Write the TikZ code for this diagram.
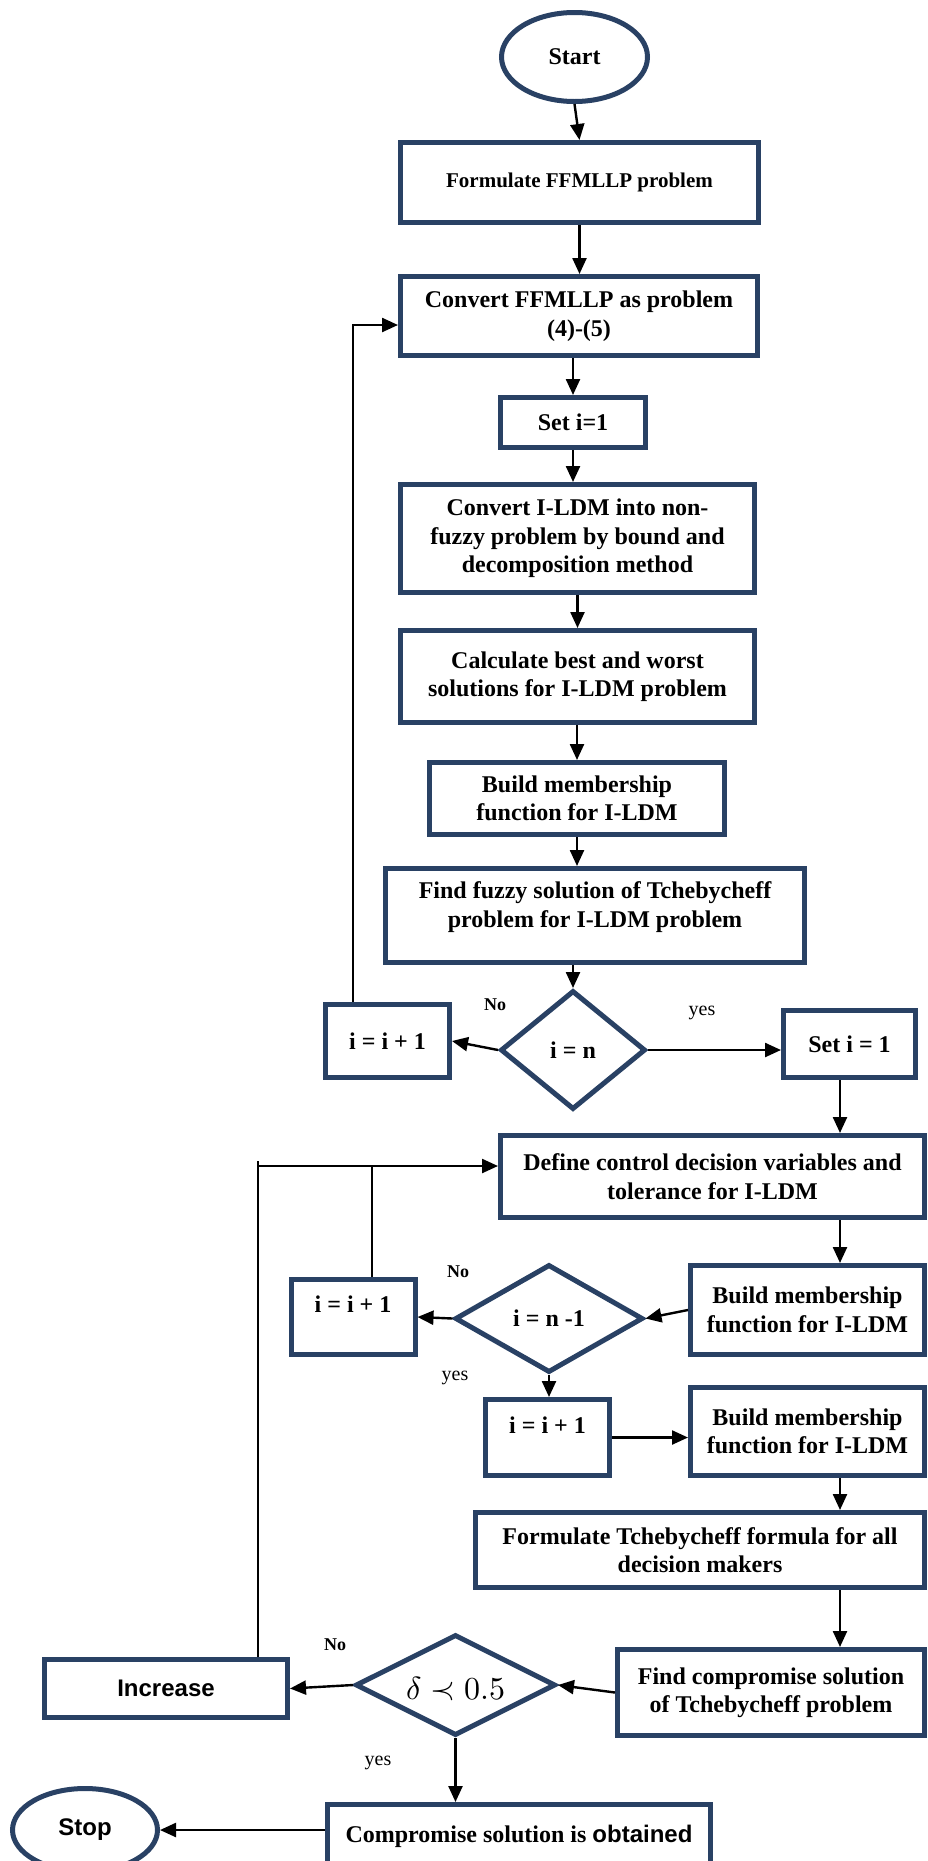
\documentclass[tikz,border=0pt]{standalone}
\usepackage{graphicx}
\usepackage{fontspec}
\setmainfont{Liberation Serif}
\newfontfamily\arialfont{Liberation Sans}
\usetikzlibrary{shapes.geometric,arrows.meta}
\definecolor{bblue}{RGB}{41,65,100}
\begin{document}
\begin{tikzpicture}[x=1pt,y=-1pt,
  every node/.style={inner sep=2pt},
  box/.style={draw=bblue, line width=5pt, rectangle, align=center,
    font=\bfseries\fontsize{24}{28.5}\selectfont},
  dia/.style={draw=bblue, line width=5pt, diamond, inner sep=0pt, align=center,
    font=\bfseries\fontsize{24}{28.5}\selectfont},
  ell/.style={draw=bblue, line width=5pt, ellipse, inner sep=0pt,
    font=\bfseries\fontsize{24}{28.5}\selectfont},
  arr/.style={-{Triangle[length=16pt,width=14pt]}, line width=2.4pt},
  ln/.style={line width=1.8pt},
  lblno/.style={font=\bfseries\fontsize{18}{20}\selectfont},
  lblyes/.style={font=\fontsize{20}{22}\selectfont}]
\useasboundingbox (0,0) rectangle (927,1861);

% nodes
\node[ell, minimum width=146pt, minimum height=89pt] (start) at (574.5,57) {Start};
\node[box, minimum width=358pt, minimum height=80pt, font=\bfseries\fontsize{21}{24}\selectfont] (form) at (579.5,182.5) {Formulate FFMLLP problem};
\node[box, minimum width=357pt, minimum height=79pt] (conv) at (579,316) {Convert FFMLLP as problem\\(4)-(5)};
\node[box, minimum width=145pt, minimum height=50pt] (seti) at (573,422.5) {Set i=1};
\node[box, minimum width=354pt, minimum height=108pt] (cildm) at (577.5,538.5) {Convert I-LDM into non-\\fuzzy problem by bound and\\decomposition method};
\node[box, minimum width=354pt, minimum height=92pt] (calc) at (577.5,676.5) {Calculate best and worst\\solutions for I-LDM problem};
\node[box, minimum width=295pt, minimum height=72pt] (build1) at (577,798.5) {Build membership\\function for I-LDM};
\node[box, minimum width=419pt, minimum height=94pt, text depth=22pt] (findf) at (595,915.5) {Find fuzzy solution of Tchebycheff\\problem for I-LDM problem};
\node[dia, minimum width=145pt, minimum height=119pt] (d1) at (573,1050) {i = n};
\node[box, minimum width=124pt, minimum height=73pt] (inc1) at (387.5,1041) {i = i + 1};
\node[box, minimum width=132pt, minimum height=67pt] (set1b) at (849.5,1044) {Set i = 1};
\node[box, minimum width=424pt, minimum height=82pt] (define) at (712.5,1176.5) {Define control decision variables and\\tolerance for I-LDM};
\node[box, minimum width=234pt, minimum height=89pt] (build2) at (807.5,1310) {Build membership\\function for I-LDM};
\node[dia, minimum width=188pt, minimum height=108pt] (d2) at (549,1318.5) {i = n -1};
\node[box, minimum width=124pt, minimum height=75pt, text height=17pt, text depth=26pt] (inc2) at (353,1317) {i = i + 1};
\node[box, minimum width=124pt, minimum height=76pt, text height=17pt, text depth=26pt] (inc3) at (547.5,1437.5) {i = i + 1};
\node[box, minimum width=234pt, minimum height=88pt] (build3) at (807.5,1431.5) {Build membership\\function for I-LDM};
\node[box, minimum width=449pt, minimum height=75pt] (ftch) at (700,1550) {Formulate Tchebycheff formula for all\\decision makers};
\node[box, minimum width=307pt, minimum height=86pt] (fcomp) at (771,1692.5) {Find compromise solution\\of Tchebycheff problem};
\node[dia, minimum width=200pt, minimum height=101pt, font=\normalsize] (d3) at (455.5,1685) {\makebox[0pt]{\raisebox{-14pt}[0pt][0pt]{\scalebox{3.2}{$\delta \prec 0.5$}}}};
\node[box, minimum width=243pt, minimum height=58pt, font=\arialfont\bfseries\fontsize{24}{28}\selectfont] (incr) at (166,1688.5) {Increase};
\node[box, minimum width=383pt, minimum height=63pt] (comp) at (519,1836) {Compromise solution is {\arialfont\bfseries obtained}};
\node[ell, minimum width=145pt, minimum height=83pt, font=\arialfont\bfseries\fontsize{24}{28}\selectfont] (stop) at (85,1830) {Stop};

% labels
\node[lblno] (no1) at (495,1005) {No};
\node[lblyes] (yes1) at (702,1013) {yes};
\node[lblno] (no2) at (458,1272) {No};
\node[lblyes] (yes2) at (455,1378) {yes};
\node[lblno] (no3) at (335,1645) {No};
\node[lblyes] (yes3) at (378,1763) {yes};

% helper coordinates
\coordinate (colR) at (840,0);
\coordinate (fb1) at (353,325);
\coordinate (j2) at (372,1166);
\coordinate (lt) at (257,1166);
\coordinate (ltop) at (258,1161);

% connectors
\draw[arr] (start.south) -- (form.north);
\draw[arr] (form.south) -- (form.south |- conv.north);
\draw[arr] (seti.north |- conv.south) -- (seti.north);
\draw[arr] (seti.south) -- (seti.south |- cildm.north);
\draw[arr] (cildm.south) -- (cildm.south |- calc.north);
\draw[arr] (build1.north |- calc.south) -- (build1.north);
\draw[arr] (build1.south) -- (build1.south |- findf.north);
\draw[arr] (findf.south -| d1.north) -- (d1.north);
\draw[arr] (d1.west) -- (inc1.east);
\draw[arr] (d1.east) -- (d1.east -| set1b.west);
\draw[arr] (inc1.north -| fb1) -- (fb1) -- (fb1 -| conv.west);
\draw[arr] (colR |- set1b.south) -- (colR |- define.north);
\draw[arr] (colR |- define.south) -- (colR |- build2.north);
\draw[arr] (build2.west) -- (d2.east);
\draw[arr] (d2.west) -- (inc2.east);
\draw[ln] (inc2.north -| j2) -- (j2);
\draw[arr] (lt) -- (lt -| define.west);
\draw[ln] (incr.north -| ltop) -- (ltop);
\draw[arr] (d2.south) -- (d2.south |- inc3.north);
\draw[arr] (inc3.east) -- (inc3.east -| build3.west);
\draw[arr] (colR |- build3.south) -- (colR |- ftch.north);
\draw[arr] (colR |- ftch.south) -- (colR |- fcomp.north);
\draw[arr] (fcomp.west) -- (d3.east);
\draw[arr] (d3.west) -- (incr.east);
\draw[arr] (d3.south) -- (d3.south |- comp.north);
\draw[arr] (stop.east -| comp.west) -- (stop.east);
\end{tikzpicture}
\end{document}
